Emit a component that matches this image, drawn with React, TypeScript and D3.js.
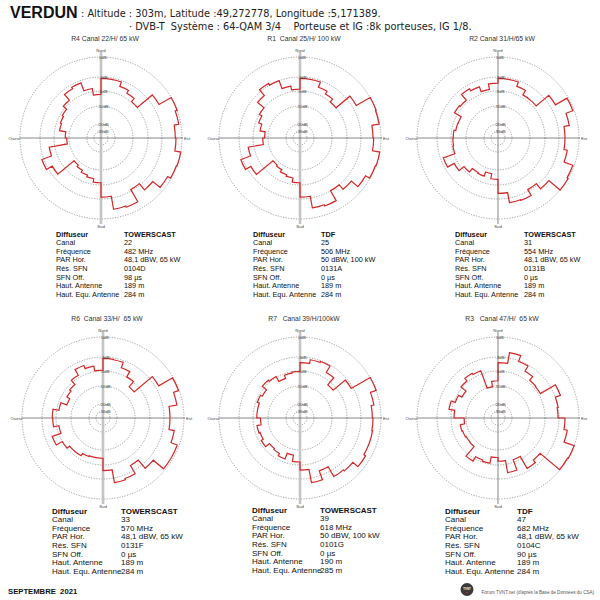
import React from "react";
import * as d3 from "d3";

// relative gain per 10° sector (dB), from north clockwise
const r4Gain = [-3.3, -3.3, -4.3, -5.0, -5.9, -2.1, 0, -0.3, -1.0, -0.9, 0, -0.1, -0.6, -2.0, -3.3, -1.1, -1.3, -3.4, -6.6, -7.5, -8.0, -8.6, -9.1, -4.0, -2.7, -4.8, -9.4, -9.0, -7.3, -7.0, -6.6, -5.5, -3.9, -3.5, -5.3, -6.9];
const r1Gain = [-3.3, -3.3, -4.5, -5.2, -6.0, -2.4, 0, -0.1, -1.2, -1.1, 0, -0.1, -0.8, -2.1, -3.0, -1.3, -1.5, -3.4, -6.6, -7.7, -8.1, -8.8, -9.1, -3.9, -2.7, -4.8, -8.6, -9.1, -7.7, -6.8, -6.0, -4.2, -2.7, -3.0, -4.8, -5.6];
const r2Gain = [-3.3, -3.3, -4.3, -5.4, -5.4, -2.2, -0.2, -1.3, -2.1, -2.1, -1.6, -0.2, 0, -2.2, -3.3, -2.2, -2.3, -4.2, -7.5, -8.9, -7.7, -7.9, -6.7, -5.2, -3.6, -6.3, -6.5, -6.6, -7.1, -7.2, -5.3, -5.5, -3.9, -4.4, -5.5, -4.3];
const r6Gain = [-3.3, -3.4, -4.6, -5.9, -7.7, -2.5, -0.1, -0.9, -2.1, -2.1, -1.3, -0.3, -0.3, -2.3, -4.3, -2.5, -2.3, -4.8, -7.8, -7.8, -7.6, -6.9, -6.9, -6.0, -4.5, -6.6, -5.3, -5.2, -6.6, -8.3, -7.4, -6.9, -5.5, -4.1, -4.8, -5.8];
const r7Gain = [-4.2, -3.4, -3.2, -4.8, -7.0, -3.4, 0, -0.9, -1.3, -1.2, -1.1, -1.1, -0.8, -1.8, -2.0, -4.0, -2.3, -4.9, -6.8, -8.5, -6.9, -7.6, -7.9, -6.6, -7.2, -6.9, -8.0, -7.0, -7.0, -6.4, -6.9, -5.5, -5.8, -7.3, -6.4, -6.1];
const r3Gain = [-4.2, -2.2, -3.2, -4.5, -5.5, -5.6, -2.2, -3.0, -3.2, -2.1, -1.6, 0, -0.1, -4.3, -3.6, -6.7, -4.2, -7.0, -8.0, -6.3, -6.6, -5.4, -8.6, -8.7, -8.5, -8.3, -9.5, -6.8, -5.4, -6.4, -7.4, -5.7, -5.0, -5.3, -10.2, -8.6];

const ringTicks = [0, -3, -6, -10, -20, -30];
const ringLabels = ["0dB", "-3dB", "-6dB", "-10dB", "-20dB", "-30dB"];

const titles = ["R4 Canal 22/H/ 65 kW", "R1  Canal 25/H/ 100 kW", "R2 Canal 31/H/65 kW", "R6  Canal 33/H/  65 kW", "R7   Canal 39/H/100kW", "R3   Canal 47/H/  65 kW"];
const rowLabels = ["Diffuseur", "Canal", "Fréquence", "PAR Hor.", "Rés. SFN", "SFN Off.", "Haut. Antenne", "Haut. Equ. Antenne"];
const diffuseurs = ["TOWERSCAST", "TDF", "TOWERSCAST", "TOWERSCAST", "TOWERSCAST", "TDF"];
const canaux = ["22", "25", "31", "33", "39", "47"];
const frequences = ["482 MHz", "506 MHz", "554 MHz", "570 MHz", "618 MHz", "682 MHz"];
const parHor = ["48,1 dBW, 65 kW", "50 dBW, 100 kW", "48,1 dBW, 65 kW", "48,1 dBW, 65 kW", "50 dBW, 100 kW", "48,1 dBW, 65 kW"];
const resSfn = ["0104D", "0131A", "0131B", "0131F", "0101G", "0104C"];
const sfnOff = ["98 µs", "0 µs", "0 µs", "0 µs", "0 µs", "90 µs"];
const hautAntenne = ["189 m", "189 m", "189 m", "189 m", "190 m", "189 m"];
const hautEqu = ["284 m", "284 m", "284 m", "284 m", "285 m", "284 m"];

const gains = [r4Gain, r1Gain, r2Gain, r6Gain, r7Gain, r3Gain];

// layout
const charts = [
  {cx: 101, cy: 138, thick: true, tx: 56, vx: 124, ty: 236.6, fs: 7.3},
  {cx: 300, cy: 138, thick: true, tx: 253, vx: 321, ty: 236.6, fs: 7.3},
  {cx: 498, cy: 138, thick: false, tx: 455, vx: 524, ty: 236.6, fs: 7.3},
  {cx: 103, cy: 418, thick: true, tx: 52, vx: 121, ty: 513.5, fs: 8},
  {cx: 300, cy: 418, thick: true, tx: 252, vx: 320, ty: 512.5, fs: 8},
  {cx: 498, cy: 418, thick: false, tx: 445, vx: 517, ty: 513.5, fs: 8},
];

const rScale = d3.scaleLinear().domain([-30, -20, -10, -6, -3, 0]).range([7, 14, 32, 47, 61, 81]).clamp(true);
const aScale = d3.scaleLinear().domain([0, 360]).range([-Math.PI / 2, 1.5 * Math.PI]);
const sectorStep = 10;

const SANS = "'Liberation Sans', Arial, sans-serif";
const RED = "#d42626";

function stepPath(values: number[], cx: number, cy: number) {
  const p = d3.path();
  values.forEach((v, i) => {
    const a0 = aScale(i * sectorStep);
    const a1 = aScale((i + 1) * sectorStep);
    const rr = rScale(v);
    if (i === 0) p.moveTo(cx + rr * Math.cos(a0), cy + rr * Math.sin(a0));
    p.arc(cx, cy, rr, a0, a1);
  });
  p.closePath();
  return p.toString();
}

function Polar({idx}: {idx: number}) {
  const c = charts[idx];
  const {cx, cy} = c;
  const R = rScale(0);
  const values = [diffuseurs, canaux, frequences, parHor, resSfn, sfnOff, hautAntenne, hautEqu].map((a) => a[idx]);
  return (
    <g>
      <text x={cx + 4} y={cy - 97.5} fontSize={6.8} fill="#333" textAnchor="middle" fontFamily={SANS}
            style={{whiteSpace: "pre"}}>{titles[idx]}</text>
      {ringTicks.map((t) => (
        <circle key={t} cx={cx} cy={cy} r={rScale(t)} fill="none" stroke="#7a7a7a"
                strokeWidth={0.7} strokeDasharray="1.2,1.4"/>
      ))}
      <line x1={cx} x2={cx} y1={cy - 86} y2={cy + 86}
            stroke={c.thick ? "#c4c4c4" : "#555"} strokeWidth={c.thick ? 2.6 : 0.7}/>
      <line x1={cx - 81} x2={cx + 82} y1={cy} y2={cy} stroke="#555" strokeWidth={0.7}/>
      <path d={stepPath(gains[idx], cx, cy)} fill="none" stroke={RED} strokeWidth={1.2}/>
      {ringTicks.map((t, i) => (
        <text key={"l" + t} x={cx + 2} y={cy - rScale(t) + 1.6} fontSize={4.3} fill="#444"
              textAnchor="middle" fontFamily={SANS}>{ringLabels[i]}</text>
      ))}
      <text x={cx} y={cy - R - 5} fontSize={4.3} fill="#444" textAnchor="middle" fontFamily={SANS}>Nord</text>
      <text x={cx} y={cy + R + 9} fontSize={4.3} fill="#444" textAnchor="middle" fontFamily={SANS}>Sud</text>
      <text x={cx - R} y={cy + 1.6} fontSize={4.3} fill="#444" textAnchor="end" fontFamily={SANS}>Ouest</text>
      <text x={cx + R + 2} y={cy + 1.6} fontSize={4.3} fill="#444" fontFamily={SANS}>Est</text>
      {rowLabels.map((lab, i) => (
        <g key={lab} fontFamily={SANS} fontSize={c.fs} fill="#111" fontWeight={i === 0 ? "bold" : "normal"}>
          <text x={c.tx} y={c.ty + i * 8.6}>{lab}</text>
          <text x={c.vx} y={c.ty + i * 8.6}>{values[i]}</text>
        </g>
      ))}
    </g>
  );
}

export default function App() {
  return (
    <div style={{position: "absolute", left: 0, top: 0}}>
      <svg width={600} height={600} style={{display: "block", background: "#fff"}}>
        <rect width={600} height={600} fill="#fff"/>
        <text x={10} y={17.5} fontSize={16} fontWeight="bold" fontFamily={SANS} fill="#111">VERDUN</text>
        <text x={81} y={17} fontSize={9.8} fontFamily="'DejaVu Sans', sans-serif" fill="#222">: Altitude : 303m, Latitude :49,272778, Longitude :5,171389.</text>
        <text x={129} y={30} fontSize={9.8} fontFamily="'DejaVu Sans', sans-serif" fill="#222"
              style={{whiteSpace: "pre"}}>{"· DVB-T  Système : 64-QAM 3/4    Porteuse et IG :8k porteuses, IG 1/8."}</text>
        {charts.map((_, i) => <Polar key={i} idx={i}/>)}
        <text x={8} y={594} fontSize={7.7} fontWeight="bold" fontFamily={SANS} fill="#111"
              style={{whiteSpace: "pre"}}>{"SEPTEMBRE  2021"}</text>
        <circle cx={467} cy={589.5} r={6.5} fill="#3a3a3a"/>
        <text x={467} y={589.5} fontSize={2.8} fill="#fff" textAnchor="middle" fontFamily={SANS} fontWeight="bold">TVNT</text>
        <circle cx={467} cy={592.5} r={0.8} fill={RED}/>
        <text x={481.5} y={594} fontSize={4.6} fill="#555" fontFamily={SANS}>Forum TVNT.net (d'après la Base de Données du CSA)</text>
      </svg>
    </div>
  );
}
